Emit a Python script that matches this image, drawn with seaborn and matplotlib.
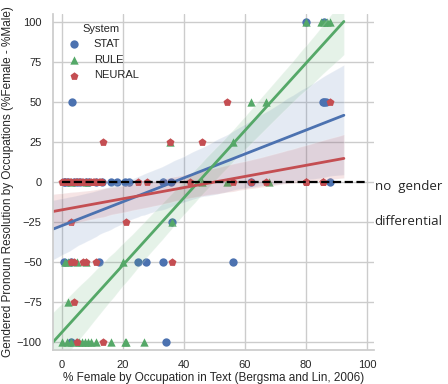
import matplotlib
matplotlib.use("Agg")
import matplotlib.pyplot as plt
import numpy as np
import pandas as pd
import seaborn as sns

# points, (x = % female in text, y = %female - %male)
# many points overlap on the y=0 row under the dashed line
stat_x = [80, 86, 3.3, 86, 85.5, 86.5, 0.5, 1, 2, 4, 5, 6, 8, 9, 11, 13, 16, 18, 20.6, 22,
          33, 35.6, 62, 88, 36, 0.5, 3, 12, 25, 27.5, 33, 56, 3, 34]
stat_y = [100, 100, 50, 50, 50, 50, 0, 0, 0, 0, 0, 0, 0, 0, 0, 0, 0, 0, 0, 0,
          0, 0, 0, 0, -25, -50, -50, -50, -50, -50, -50, -50, -100, -100]

rule_x = [80, 85, 86, 87, 88, 62, 67, 35.4, 56, 3, 8, 46, 54, 68, 36,
          1, 2, 5, 8, 20, 2,
          0, 1.5, 3, 4.5, 5.5, 6.5, 7.5, 8.5, 9.5, 11, 16, 20.6, 21, 27]
rule_y = [100, 100, 100, 100, 100, 50, 50, 25, 25, 0, 0, 0, 0, 0, -25,
          -50, -50, -50, -50, -50, -75,
          -100, -100, -100, -100, -100, -100, -100, -100, -100, -100, -100, -100, -100, -100]

neural_x = [54, 88, 13.4, 35.4, 46,
            0, 0.5, 1, 1.5, 2, 2.5, 3, 4, 4.5, 5, 5.5, 6, 6.5, 7, 8, 9, 9.5, 10, 10.5,
            11, 12, 12.5, 13, 25, 28, 42, 56, 62, 67, 80, 80, 80, 85.6, 85.6, 85.6,
            3, 21, 3, 4, 7, 8, 11, 36, 4, 5, 13.4]
neural_y = [50, 50, 25, 25, 25,
            0, 0, 0, 0, 0, 0, 0, 0, 0, 0, 0, 0, 0, 0, 0, 0, 0, 0, 0,
            0, 0, 0, 0, 0, 0, 0, 0, 0, 0, 0, 0, 0, 0, 0, 0,
            -25, -25, -50, -50, -50, -50, -50, -50, -75, -100, -100]

systems = ["STAT", "RULE", "NEURAL"]
colors = ["#4C72B0", "#55A868", "#C44E52"]
markers = ["o", "^", "p"]

xlabel = "% Female by Occupation in Text (Bergsma and Lin, 2006)"
ylabel = "Gendered Pronoun Resolution by Occupations (%Female - %Male)"

df = pd.concat([
    pd.DataFrame({"x": stat_x, "y": stat_y, "System": "STAT"}),
    pd.DataFrame({"x": rule_x, "y": rule_y, "System": "RULE"}),
    pd.DataFrame({"x": neural_x, "y": neural_y, "System": "NEURAL"}),
], ignore_index=True)

sns.set_theme(style="whitegrid")
plt.rcParams["font.family"] = ["Liberation Sans", "DejaVu Sans"]

g = sns.lmplot(data=df, x="x", y="y", hue="System", hue_order=systems,
               palette=colors, markers=markers, truncate=False, legend=False,
               scatter_kws={"s": 36, "linewidths": 0, "alpha": 1},
               line_kws={"lw": 2}, seed=0)
fig = g.figure
fig.set_size_inches(4.48, 3.84)
fig.subplots_adjust(left=0.118, right=0.835, bottom=0.089, top=0.964)
ax = g.ax

# reference line: no gender differential
ax.hlines(0, 0, 100, colors="black", linestyles="--", lw=1.6, zorder=10)

ax.set_xlim(-3, 102.3)
ax.set_ylim(-105, 105)
ax.set_xticks([0, 20, 40, 60, 80, 100])
ax.set_yticks([-100, -75, -50, -25, 0, 25, 50, 75, 100])
ax.tick_params(axis="x", labelsize=8, pad=1.5)
ax.tick_params(axis="y", labelsize=8, pad=2)
ax.set_xlabel(xlabel, fontsize=8.5, labelpad=1)
ax.set_ylabel(ylabel, fontsize=8.5, labelpad=2)

ax.legend(title="System", loc="upper left", bbox_to_anchor=(0.0, 1.0),
          fontsize=8, title_fontsize=8, frameon=False)

fig.text(0.837, 0.515, "no  gender", fontsize=9.5, family="Open Sans", va="center")
fig.text(0.835, 0.424, "differential", fontsize=9.5, family="Open Sans", va="center")

fig.savefig("out.png", dpi=100)
